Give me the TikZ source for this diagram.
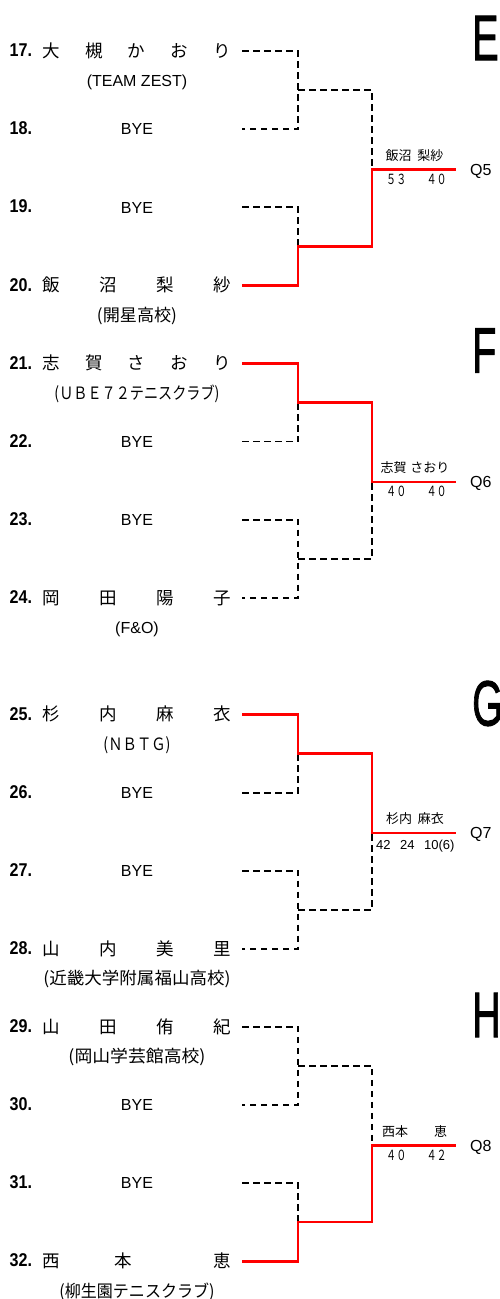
\documentclass[tikz,border=0pt]{standalone}
\usepackage{fontspec}
\usepackage{graphicx}
\setmainfont{Liberation Sans}
\newfontfamily\cjk{Noto Sans CJK JP}
\newfontfamily\blockfont{Liberation Sans}[FakeBold=1.6]
\tikzset{
  dashline/.style={black, line width=1.9pt, dash pattern=on 6.5pt off 4.5pt},
  winline/.style={red, line width=2.6pt},
  numstyle/.style={anchor=base west, inner sep=0pt, font=\fontsize{18.5}{20}\selectfont\bfseries},
  namestyle/.style={anchor=base west, inner sep=0pt, font=\fontsize{17.5}{20}\selectfont\cjk},
  byestyle/.style={anchor=base, inner sep=0pt, font=\fontsize{16}{18}\selectfont},
  affstyle/.style={anchor=base, inner sep=0pt, font=\fontsize{16}{18}\selectfont},
  affcjk/.style={anchor=base, inner sep=0pt, font=\fontsize{17}{19}\selectfont\cjk},
  winstyle/.style={anchor=base, inner sep=0pt, font=\fontsize{13}{15}\selectfont\cjk},
  scorestyle/.style={anchor=base west, inner sep=0pt},
  qstyle/.style={anchor=base west, inner sep=0pt, font=\fontsize{16}{18}\selectfont},
  blockstyle/.style={anchor=base west, inner sep=0pt, font=\fontsize{64}{70}\selectfont\blockfont},
}
\newcommand\PNum[1]{\scalebox{0.87}[1]{#1}}
\newcommand\PName[1]{\makebox[189pt]{#1}}
\newcommand\Fw[1]{\scalebox{0.72}[1]{\fontsize{14}{16}\selectfont\cjk #1}}
\newcommand\Player[4]{%
  \node[numstyle] (num#1) at (9.5,{#2+5.7}) {\PNum{#3}};
  \node[namestyle] (name#1) at (42,{#2+6.3}) {\PName{#4}};
  \coordinate (r#1) at (242,#2);
}
\newcommand\Bye[3]{%
  \node[numstyle] (num#1) at (9.5,{#2+5.7}) {\PNum{#3}};
  \node[byestyle] (bye#1) at (137,{#2+5.8}) {BYE};
  \coordinate (r#1) at (242,#2);
}
\newcommand\AffL[3]{\node[affstyle] (aff#1) at (137,{#2+35.3}) {#3};}
\newcommand\AffC[4]{\node[affcjk] (aff#1) at (137,{#2+36}) {\resizebox{#3}{\height}{#4}};}
\begin{document}
\begin{tikzpicture}[x=1pt,y=-1pt]
\fill[white] (0,0) rectangle (500,1299);
\useasboundingbox (0,0) rectangle (500,1299);

% ---------- block letters
\node[blockstyle] (bE) at (472,60) {\scalebox{0.62}[1]{E}};
\node[blockstyle] (bF) at (472,372.5) {\scalebox{0.62}[1]{F}};
\node[blockstyle] (bG) at (472,725.5) {\scalebox{0.62}[1]{G}};
\node[blockstyle] (bH) at (472,1037) {\scalebox{0.62}[1]{H}};

% ---------- players E
\Player{17}{51.0}{17.}{大\hfill 槻\hfill か\hfill お\hfill り}
\AffL{17}{51.0}{(TEAM ZEST)}
\Bye{18}{129.1}{18.}
\Bye{19}{207.2}{19.}
\Player{20}{285.3}{20.}{飯\hfill 沼\hfill 梨\hfill 紗}
\AffC{20}{285.3}{80pt}{(開星高校)}
% ---------- players F
\Player{21}{363.4}{21.}{志\hfill 賀\hfill さ\hfill お\hfill り}
\AffC{21}{363.4}{165pt}{(ＵＢＥ７２テニスクラブ)}
\Bye{22}{441.5}{22.}
\Bye{23}{519.6}{23.}
\Player{24}{597.7}{24.}{岡\hfill 田\hfill 陽\hfill 子}
\AffL{24}{597.7}{(F\&O)}
% ---------- players G
\Player{25}{714.5}{25.}{杉\hfill 内\hfill 麻\hfill 衣}
\AffC{25}{714.5}{67pt}{(ＮＢＴＧ)}
\Bye{26}{792.6}{26.}
\Bye{27}{870.7}{27.}
\Player{28}{948.8}{28.}{山\hfill 内\hfill 美\hfill 里}
\AffC{28}{948.8}{187pt}{(近畿大学附属福山高校)}
% ---------- players H
\Player{29}{1026.9}{29.}{山\hfill 田\hfill 侑\hfill 紀}
\AffC{29}{1026.9}{137pt}{(岡山学芸館高校)}
\Bye{30}{1105.0}{30.}
\Bye{31}{1183.1}{31.}
\Player{32}{1261.2}{32.}{西\hfill\hfill 本\hfill\hfill\hfill 恵}
\AffC{32}{1261.2}{155pt}{(柳生園テニスクラブ)}

% ---------- junctions
\coordinate (jE1) at (298,90.05);   \coordinate (jE2) at (298,246.25);
\coordinate (kE) at (372,169.5);    \coordinate (fE) at (456,169.5);
\coordinate (jF1) at (298,402.45);  \coordinate (jF2) at (298,558.65);
\coordinate (kF) at (372,481.8);    \coordinate (fF) at (456,481.8);
\coordinate (jG1) at (298,753.55);  \coordinate (jG2) at (298,909.75);
\coordinate (kG) at (372,833);      \coordinate (fG) at (456,833);
\coordinate (jH1) at (298,1065.95); \coordinate (jH2) at (298,1222.15);
\coordinate (kH) at (372,1145.5);   \coordinate (fH) at (456,1145.5);

% ---------- E connectors
\draw[dashline] (r17) -| (jE1) |- (r18);
\draw[dashline] (jE1) -| (kE);
\draw[dashline] (r19) -| (jE2);
\draw[winline] (r20) -| (jE2) -| (kE) -- (fE);
% ---------- F connectors
\draw[dashline] (r22) -| (jF1);
\draw[dashline] (r23) -| (jF2) |- (r24);
\draw[dashline] (jF2) -| (kF);
\draw[winline] (r21) -| (jF1) -| (kF) -- (fF);
% ---------- G connectors
\draw[dashline] (r26) -| (jG1);
\draw[dashline] (r27) -| (jG2) |- (r28);
\draw[dashline] (jG2) -| (kG);
\draw[winline] (r25) -| (jG1) -| (kG) -- (fG);
% ---------- H connectors
\draw[dashline] (r29) -| (jH1) |- (r30);
\draw[dashline] (jH1) -| (kH);
\draw[dashline] (r31) -| (jH2);
\draw[winline] (r32) -| (jH2) -| (kH) -- (fH);

% ---------- winners, scores, Q labels
\node[winstyle] (wE) at (414.5,{169.5-9.5}) {飯沼\hspace{6pt}梨紗};
\node[scorestyle] (sE) at (386,{169.5+14.5}) {\Fw{５３　　４０}};
\node[qstyle] (qE) at (470,{169.5+5.7}) {Q5};

\node[winstyle] (wF) at (415,{481.8-9.5}) {志賀\hspace{4pt}さおり};
\node[scorestyle] (sF) at (386,{481.8+14.5}) {\Fw{４０　　４０}};
\node[qstyle] (qF) at (470,{481.8+5.7}) {Q6};

\node[winstyle] (wG) at (415,{833-9.5}) {杉内\hspace{6pt}麻衣};
\node[scorestyle, font=\fontsize{13}{15}\selectfont] (sG) at (376,{833+16}) {42\hspace{9.5pt}24\hspace{9.5pt}10(6)};
\node[qstyle] (qG) at (470,{833+5.7}) {Q7};

\node[winstyle] (wH) at (414.5,{1145.5-9.5}) {西本\hspace{26pt}恵};
\node[scorestyle] (sH) at (386,{1145.5+14.5}) {\Fw{４０　　４２}};
\node[qstyle] (qH) at (470,{1145.5+5.7}) {Q8};
\end{tikzpicture}
\end{document}
